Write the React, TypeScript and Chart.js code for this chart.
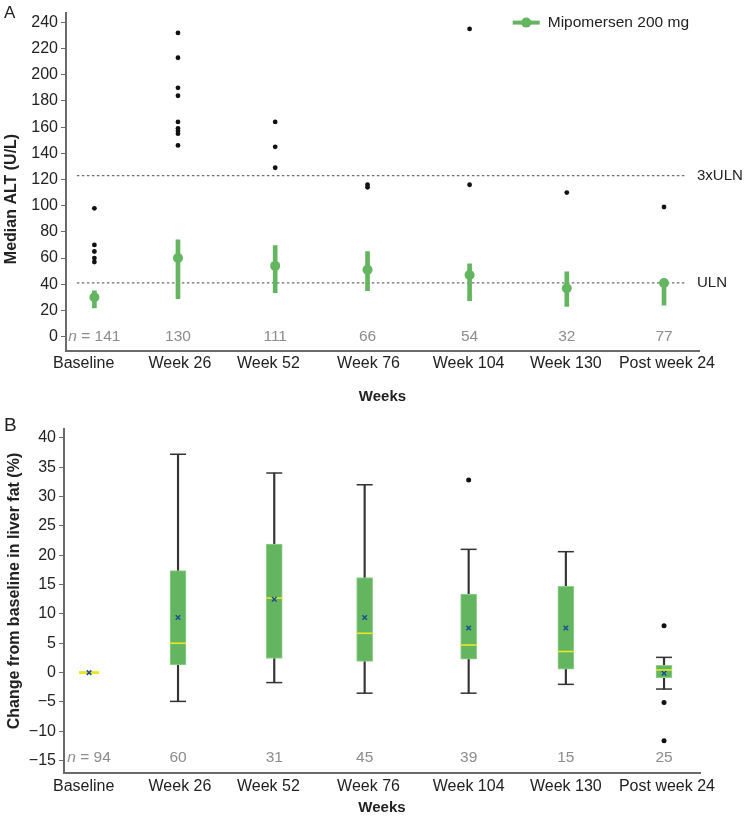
import React, { useEffect, useRef } from 'react';
import { Chart, registerables } from 'chart.js';

Chart.register(...registerables);

const FONT = "'Liberation Sans', Arial, Helvetica, sans-serif";
const GREEN = '#64b560';
const TEXT = '#222222';
const GRAY_TEXT = '#8c8c8c';

// ---- shared categories ----
const WEEKS = ['Baseline', 'Week 26', 'Week 52', 'Week 76', 'Week 104', 'Week 130', 'Post week 24'];
const TICK_POS = [0.03, 1.02, 1.93, 2.96, 3.99, 4.99, 6.03];

// ---- Panel A: median ALT ----
const ALT_POS = [0.14, 1, 2, 2.95, 4, 5, 6];
const ALT_MEDIAN = [30, 60, 54, 51, 47, 37, 41];
const ALT_LOW = [22, 29, 33.5, 35, 27.5, 23, 24];
const ALT_HIGH = [35, 74, 69.5, 65, 55.5, 49.5, 44];
const ALT_OUTLIERS = [
  [98, 70, 65, 60, 57],
  [232, 213, 190, 184, 164, 159, 157, 155, 146],
  [164, 145, 129],
  [116, 114],
  [235, 116],
  [110],
  [99],
];
const ALT_N = [141, 130, 111, 66, 54, 32, 77];
const ALT_TICKS = [0, 20, 40, 60, 80, 100, 120, 140, 160, 180, 200, 220, 240];
const ULN = 41;
const ULN3 = 123;

// ---- Panel B: change in liver fat ----
const FAT_POS = [0.085, 1, 1.99, 2.92, 3.99, 4.99, 6];
const FAT_MIN = [0, -4.9, -1.7, -3.5, -3.5, -2, -2.8];
const FAT_Q1 = [0, 1.3, 2.4, 1.9, 2.3, 0.6, -0.85];
const FAT_MEDIAN = [0, 5, 12.7, 6.7, 4.7, 3.6, 0.45];
const FAT_MEAN = [0, 9.4, 12.5, 9.4, 7.6, 7.6, -0.1];
const FAT_Q3 = [0, 17.4, 21.9, 16.2, 13.4, 14.7, 1.25];
const FAT_MAX = [0, 37.2, 34, 32, 21, 20.6, 2.6];
const FAT_OUTLIERS = [[], [], [], [], [32.8], [], [8, -5.1, -11.6]];
const FAT_N = [94, 60, 31, 45, 39, 15, 25];
const FAT_TICKS = [-15, -10, -5, 0, 5, 10, 15, 20, 25, 30, 35, 40];

function drawNLabels(ctx: CanvasRenderingContext2D, xs: any, ys: any, pos: number[], ns: number[], yVal: number) {
  const py = ys.getPixelForValue(yVal);
  ctx.fillStyle = GRAY_TEXT;
  ctx.textBaseline = 'middle';
  ns.forEach((n, i) => {
    const px = xs.getPixelForValue(pos[i]);
    if (i === 0) {
      ctx.font = `italic 15.5px ${FONT}`;
      const w1 = ctx.measureText('n').width;
      ctx.font = `15.5px ${FONT}`;
      const rest = ' = ' + n;
      const w2 = ctx.measureText(rest).width;
      const start = px - (w1 + w2) / 2;
      ctx.textAlign = 'left';
      ctx.font = `italic 15.5px ${FONT}`;
      ctx.fillText('n', start, py);
      ctx.font = `15.5px ${FONT}`;
      ctx.fillText(rest, start + w1, py);
    } else {
      ctx.font = `15.5px ${FONT}`;
      ctx.textAlign = 'center';
      ctx.fillText(String(n), px, py);
    }
  });
}

function drawYTitle(ctx: CanvasRenderingContext2D, text: string, cx: number, cy: number) {
  ctx.save();
  ctx.translate(cx, cy);
  ctx.rotate(-Math.PI / 2);
  ctx.fillStyle = TEXT;
  ctx.textAlign = 'center';
  ctx.textBaseline = 'middle';
  ctx.font = `bold 16px ${FONT}`;
  ctx.fillText(text, 0, 0);
  ctx.restore();
}

const altDecor = {
  id: 'altDecor',
  afterDraw(chart: any) {
    const { ctx, chartArea, scales } = chart;
    const xs = scales.x;
    const ys = scales.y;
    ctx.save();
    ctx.fillStyle = TEXT;
    ctx.textBaseline = 'middle';
    ctx.textAlign = 'left';
    ctx.font = `17px ${FONT}`;
    ctx.fillText('A', 4, 13);
    ctx.font = `15px ${FONT}`;
    ctx.fillText('3xULN', chartArea.right - 2, ys.getPixelForValue(ULN3));
    ctx.fillText('ULN', chartArea.right - 2, ys.getPixelForValue(ULN));
    // legend
    ctx.font = `15.5px ${FONT}`;
    const label = 'Mipomersen 200 mg';
    const tw = ctx.measureText(label).width;
    const tx = chartArea.right - 10 - tw;
    const ly = chartArea.top + 10;
    ctx.strokeStyle = GREEN;
    ctx.lineWidth = 4;
    ctx.beginPath();
    ctx.moveTo(tx - 35, ly);
    ctx.lineTo(tx - 8, ly);
    ctx.stroke();
    ctx.fillStyle = GREEN;
    ctx.beginPath();
    ctx.arc(tx - 21.5, ly, 5, 0, Math.PI * 2);
    ctx.fill();
    ctx.fillStyle = TEXT;
    ctx.fillText(label, tx, ly);
    drawNLabels(ctx, xs, ys, ALT_POS, ALT_N, 0);
    drawYTitle(ctx, 'Median ALT (U/L)', 12, 199);
    ctx.restore();
  },
};

const fatDecor = {
  id: 'fatDecor',
  afterDraw(chart: any) {
    const { ctx, scales } = chart;
    ctx.save();
    ctx.fillStyle = TEXT;
    ctx.textBaseline = 'middle';
    ctx.textAlign = 'left';
    ctx.font = `19px ${FONT}`;
    ctx.fillText('B', 4, 16);
    drawNLabels(ctx, scales.x, scales.y, FAT_POS, FAT_N, -14.5);
    drawYTitle(ctx, 'Change from baseline in liver fat (%)', 15, 181);
    ctx.restore();
  },
};

function xAxis(min: number, max: number, height: number, labelPad: number, titlePad: number) {
  return {
    type: 'linear',
    min,
    max,
    offset: false,
    afterBuildTicks: (s: any) => {
      s.ticks = TICK_POS.map((v) => ({ value: v }));
    },
    afterFit: (s: any) => {
      s.height = height;
    },
    ticks: {
      autoSkip: false,
      maxRotation: 0,
      color: TEXT,
      padding: labelPad,
      font: { size: 16, family: FONT },
      callback: (_v: any, i: number) => WEEKS[i],
    },
    grid: { display: true, drawOnChartArea: false, drawTicks: false },
    border: { display: true, color: '#6a6a6a', width: 2 },
    title: {
      display: true,
      text: 'Weeks',
      color: TEXT,
      font: { size: 15, weight: 'bold', family: FONT },
      padding: { top: 0, bottom: titlePad },
    },
  };
}

function yAxis(min: number, max: number, ticks: number[], width: number, fmt: (v: number) => string) {
  return {
    type: 'linear',
    min,
    max,
    afterBuildTicks: (s: any) => {
      s.ticks = ticks.map((v) => ({ value: v }));
    },
    afterFit: (s: any) => {
      s.width = width;
    },
    ticks: {
      autoSkip: false,
      color: TEXT,
      padding: 3,
      font: { size: 16, family: FONT },
      callback: (v: any) => fmt(Number(v)),
    },
    grid: { drawOnChartArea: false, drawTicks: true, tickLength: 5, color: '#6a6a6a', tickWidth: 1 },
    border: { display: true, color: '#6a6a6a', width: 2 },
    title: { display: false },
  };
}

function altConfig(): any {
  const outliers: any[] = [];
  ALT_OUTLIERS.forEach((arr, i) => arr.forEach((v) => outliers.push({ x: ALT_POS[i], y: v })));
  return {
    type: 'scatter',
    data: {
      datasets: [
        {
          type: 'scatter',
          data: outliers,
          pointRadius: 2.4,
          pointBackgroundColor: '#111',
          pointBorderWidth: 0,
          order: 0,
        },
        {
          type: 'scatter',
          data: ALT_MEDIAN.map((v, i) => ({ x: ALT_POS[i], y: v })),
          pointRadius: 5,
          pointBackgroundColor: GREEN,
          pointBorderWidth: 0,
          order: 1,
        },
        {
          type: 'bar',
          data: ALT_LOW.map((v, i) => ({ x: ALT_POS[i], y: [v, ALT_HIGH[i]] })),
          backgroundColor: GREEN,
          barThickness: 4,
          grouped: false,
          borderSkipped: false,
          borderWidth: 0,
          order: 2,
        },
        {
          type: 'line',
          data: [
            { x: -0.04, y: ULN3 },
            { x: 6.22, y: ULN3 },
          ],
          borderColor: '#6e6e6e',
          borderWidth: 1.2,
          borderDash: [2.5, 2.5],
          pointRadius: 0,
          showLine: true,
          fill: false,
          order: 5,
        },
        {
          type: 'line',
          data: [
            { x: -0.04, y: ULN },
            { x: 6.22, y: ULN },
          ],
          borderColor: '#6e6e6e',
          borderWidth: 1.2,
          borderDash: [2.5, 2.5],
          pointRadius: 0,
          showLine: true,
          fill: false,
          order: 5,
        },
      ],
    },
    options: {
      responsive: false,
      maintainAspectRatio: false,
      animation: false,
      events: [],
      layout: { padding: { top: 5, right: 45, left: 0, bottom: 0 } },
      plugins: { legend: { display: false }, tooltip: { enabled: false } },
      scales: {
        x: xAxis(-0.152, 6.36, 59, 3, 4),
        y: yAxis(-11, 247.5, ALT_TICKS, 66, (v) => String(v)),
      },
    },
    plugins: [altDecor],
  };
}

function fatConfig(): any {
  const outliers: any[] = [];
  FAT_OUTLIERS.forEach((arr, i) => arr.forEach((v) => outliers.push({ x: FAT_POS[i], y: v })));
  const idx = WEEKS.map((_, i) => i);
  const withBox = idx.filter((i) => FAT_MIN[i] !== FAT_MAX[i]);
  const caps: any[] = [];
  withBox.forEach((i) => {
    caps.push({ x: FAT_POS[i], y: FAT_MIN[i] });
    caps.push({ x: FAT_POS[i], y: FAT_MAX[i] });
  });
  const flat = (i: number) => FAT_Q1[i] === FAT_Q3[i];
  return {
    type: 'scatter',
    data: {
      datasets: [
        {
          type: 'scatter',
          data: outliers,
          pointRadius: 2.5,
          pointBackgroundColor: '#111',
          pointBorderWidth: 0,
          order: 0,
        },
        {
          type: 'scatter',
          data: FAT_MEAN.map((v, i) => ({ x: FAT_POS[i], y: v })),
          pointStyle: 'crossRot',
          pointRadius: 3.2,
          pointBorderColor: '#1d4f8f',
          pointBorderWidth: 1.5,
          order: 1,
        },
        {
          type: 'scatter',
          data: FAT_MEDIAN.map((v, i) => ({ x: FAT_POS[i], y: v })),
          pointStyle: 'line',
          pointRadius: (c: any) => (flat(c.dataIndex) ? 10 : 8),
          pointBorderColor: '#e8e62a',
          pointBorderWidth: (c: any) => (flat(c.dataIndex) ? 3 : 1.6),
          order: 2,
        },
        {
          type: 'scatter',
          data: caps,
          pointStyle: 'line',
          pointRadius: 8,
          pointBorderColor: '#333',
          pointBorderWidth: 1.5,
          order: 3,
        },
        {
          type: 'bar',
          data: withBox.map((i) => ({ x: FAT_POS[i], y: [FAT_Q1[i], FAT_Q3[i]] })),
          backgroundColor: GREEN,
          borderColor: '#8fd08a',
          borderWidth: 1,
          borderSkipped: false,
          barThickness: 16,
          grouped: false,
          order: 4,
        },
        {
          type: 'bar',
          data: withBox.map((i) => ({ x: FAT_POS[i], y: [FAT_MIN[i], FAT_MAX[i]] })),
          backgroundColor: '#333',
          borderWidth: 0,
          barThickness: 1.5,
          grouped: false,
          order: 5,
        },
      ],
    },
    options: {
      responsive: false,
      maintainAspectRatio: false,
      animation: false,
      events: [],
      layout: { padding: { top: 19, right: 44, left: 0, bottom: 0 } },
      plugins: { legend: { display: false }, tooltip: { enabled: false } },
      scales: {
        x: xAxis(-0.173, 6.37, 47, 4, 3),
        y: yAxis(-17.1, 41.5, FAT_TICKS, 64, (v) => (v < 0 ? '\u2212' + Math.abs(v) : String(v))),
      },
    },
    plugins: [fatDecor],
  };
}

function ChartCanvas({ make }: { make: () => any }) {
  const ref = useRef<HTMLCanvasElement | null>(null);
  useEffect(() => {
    if (!ref.current) return;
    const chart = new Chart(ref.current, make());
    return () => chart.destroy();
  }, [make]);
  return <canvas ref={ref} width={744} height={410} style={{ display: 'block', width: 744, height: 410 }} />;
}

export default function App() {
  return (
    <div style={{ position: 'absolute', left: 0, top: 0, width: 744, height: 820, background: '#fff' }}>
      <ChartCanvas make={altConfig} />
      <ChartCanvas make={fatConfig} />
    </div>
  );
}
